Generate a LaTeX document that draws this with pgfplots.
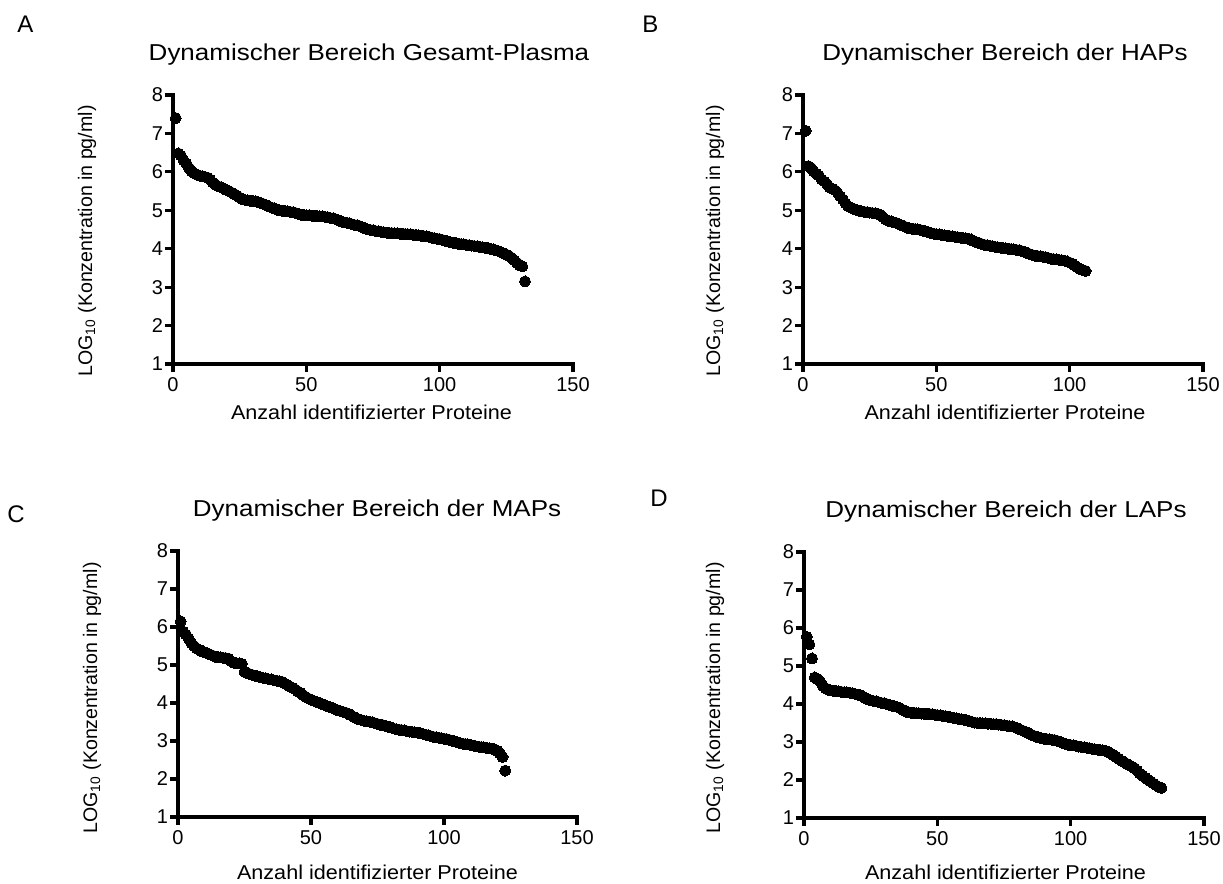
\documentclass[border=0pt]{standalone}
\usepackage{fontspec}
\setmainfont{Liberation Sans}
\newfontfamily\titlefont[FakeStretch=1.13]{Liberation Sans}
\newfontfamily\xlabfont[FakeStretch=1.08]{Liberation Sans}
\usepackage{pgfplots}
\pgfplotsset{compat=1.18}

% ranked protein concentrations (log10 pg/ml)
\pgfplotstableread[row sep=\\]{
x y\\
1 7.40\\ 2 6.48\\ 3 6.42\\ 4 6.30\\ 5 6.22\\ 6 6.10\\ 7 6.02\\ 8 5.96\\ 9 5.93\\ 10 5.90\\
11 5.88\\ 12 5.87\\ 13 5.85\\ 14 5.80\\ 15 5.72\\ 16 5.66\\ 17 5.62\\ 18 5.60\\ 19 5.57\\ 20 5.53\\
21 5.50\\ 22 5.46\\ 23 5.42\\ 24 5.38\\ 25 5.33\\ 26 5.29\\ 27 5.27\\ 28 5.26\\ 29 5.25\\ 30 5.24\\
31 5.23\\ 32 5.21\\ 33 5.19\\ 34 5.16\\ 35 5.13\\ 36 5.10\\ 37 5.07\\ 38 5.05\\ 39 5.02\\ 40 5.00\\
41 4.99\\ 42 4.98\\ 43 4.97\\ 44 4.96\\ 45 4.95\\ 46 4.93\\ 47 4.91\\ 48 4.89\\ 49 4.88\\ 50 4.87\\
51 4.87\\ 52 4.86\\ 53 4.86\\ 54 4.85\\ 55 4.84\\ 56 4.84\\ 57 4.83\\ 58 4.82\\ 59 4.80\\ 60 4.79\\
61 4.77\\ 62 4.74\\ 63 4.71\\ 64 4.69\\ 65 4.68\\ 66 4.66\\ 67 4.64\\ 68 4.62\\ 69 4.61\\ 70 4.59\\
71 4.56\\ 72 4.53\\ 73 4.50\\ 74 4.49\\ 75 4.48\\ 76 4.46\\ 77 4.45\\ 78 4.44\\ 79 4.43\\ 80 4.42\\
81 4.41\\ 82 4.41\\ 83 4.40\\ 84 4.40\\ 85 4.39\\ 86 4.39\\ 87 4.38\\ 88 4.38\\ 89 4.37\\ 90 4.36\\
91 4.36\\ 92 4.35\\ 93 4.34\\ 94 4.33\\ 95 4.32\\ 96 4.31\\ 97 4.29\\ 98 4.27\\ 99 4.26\\ 100 4.25\\
101 4.23\\ 102 4.21\\ 103 4.19\\ 104 4.17\\ 105 4.16\\ 106 4.15\\ 107 4.13\\ 108 4.12\\ 109 4.11\\ 110 4.10\\
111 4.09\\ 112 4.08\\ 113 4.07\\ 114 4.06\\ 115 4.05\\ 116 4.04\\ 117 4.03\\ 118 4.02\\ 119 4.00\\ 120 3.98\\
121 3.96\\ 122 3.94\\ 123 3.91\\ 124 3.88\\ 125 3.85\\ 126 3.81\\ 127 3.76\\ 128 3.70\\ 129 3.63\\ 130 3.57\\
131 3.54\\ 132 3.15\\
}\plasma

\pgfplotstableread[row sep=\\]{
x y\\
1 7.07\\ 2 6.15\\ 3 6.10\\ 4 6.02\\ 5 5.95\\ 6 5.90\\ 7 5.80\\ 8 5.75\\ 9 5.68\\ 10 5.60\\
11 5.56\\ 12 5.52\\ 13 5.45\\ 14 5.36\\ 15 5.28\\ 16 5.18\\ 17 5.10\\ 18 5.07\\ 19 5.04\\ 20 5.01\\
21 4.99\\ 22 4.97\\ 23 4.96\\ 24 4.95\\ 25 4.94\\ 26 4.93\\ 27 4.92\\ 28 4.91\\ 29 4.88\\ 30 4.82\\
31 4.76\\ 32 4.73\\ 33 4.71\\ 34 4.69\\ 35 4.67\\ 36 4.64\\ 37 4.61\\ 38 4.58\\ 39 4.55\\ 40 4.53\\
41 4.52\\ 42 4.51\\ 43 4.50\\ 44 4.49\\ 45 4.47\\ 46 4.45\\ 47 4.43\\ 48 4.41\\ 49 4.39\\ 50 4.38\\
51 4.37\\ 52 4.36\\ 53 4.35\\ 54 4.34\\ 55 4.33\\ 56 4.32\\ 57 4.31\\ 58 4.30\\ 59 4.29\\ 60 4.28\\
61 4.27\\ 62 4.26\\ 63 4.24\\ 64 4.20\\ 65 4.17\\ 66 4.15\\ 67 4.12\\ 68 4.10\\ 69 4.09\\ 70 4.08\\
71 4.06\\ 72 4.05\\ 73 4.04\\ 74 4.03\\ 75 4.02\\ 76 4.01\\ 77 4.00\\ 78 3.99\\ 79 3.98\\ 80 3.97\\
81 3.96\\ 82 3.94\\ 83 3.92\\ 84 3.89\\ 85 3.86\\ 86 3.84\\ 87 3.82\\ 88 3.81\\ 89 3.80\\ 90 3.79\\
91 3.78\\ 92 3.76\\ 93 3.74\\ 94 3.73\\ 95 3.72\\ 96 3.71\\ 97 3.70\\ 98 3.69\\ 99 3.67\\ 100 3.64\\
101 3.61\\ 102 3.56\\ 103 3.51\\ 104 3.47\\ 105 3.44\\ 106 3.42\\
}\haps

\pgfplotstableread[row sep=\\]{
x y\\
1 6.15\\ 2 5.88\\ 3 5.80\\ 4 5.70\\ 5 5.58\\ 6 5.50\\ 7 5.44\\ 8 5.40\\ 9 5.36\\ 10 5.33\\
11 5.31\\ 12 5.28\\ 13 5.25\\ 14 5.22\\ 15 5.21\\ 16 5.20\\ 17 5.19\\ 18 5.18\\ 19 5.17\\ 20 5.10\\
21 5.06\\ 22 5.05\\ 23 5.04\\ 24 5.03\\ 25 4.82\\ 26 4.79\\ 27 4.76\\ 28 4.74\\ 29 4.72\\ 30 4.70\\
31 4.68\\ 32 4.66\\ 33 4.65\\ 34 4.63\\ 35 4.62\\ 36 4.60\\ 37 4.59\\ 38 4.57\\ 39 4.56\\ 40 4.52\\
41 4.48\\ 42 4.44\\ 43 4.40\\ 44 4.36\\ 45 4.31\\ 46 4.27\\ 47 4.21\\ 48 4.16\\ 49 4.12\\ 50 4.09\\
51 4.06\\ 52 4.03\\ 53 4.01\\ 54 3.98\\ 55 3.95\\ 56 3.92\\ 57 3.90\\ 58 3.87\\ 59 3.84\\ 60 3.81\\
61 3.79\\ 62 3.77\\ 63 3.75\\ 64 3.72\\ 65 3.68\\ 66 3.64\\ 67 3.60\\ 68 3.57\\ 69 3.55\\ 70 3.53\\
71 3.52\\ 72 3.51\\ 73 3.49\\ 74 3.47\\ 75 3.45\\ 76 3.43\\ 77 3.42\\ 78 3.40\\ 79 3.38\\ 80 3.36\\
81 3.33\\ 82 3.31\\ 83 3.30\\ 84 3.29\\ 85 3.28\\ 86 3.26\\ 87 3.25\\ 88 3.24\\ 89 3.23\\ 90 3.22\\
91 3.21\\ 92 3.19\\ 93 3.17\\ 94 3.15\\ 95 3.13\\ 96 3.11\\ 97 3.10\\ 98 3.09\\ 99 3.07\\ 100 3.06\\
101 3.05\\ 102 3.03\\ 103 3.01\\ 104 2.99\\ 105 2.97\\ 106 2.95\\ 107 2.93\\ 108 2.92\\ 109 2.91\\ 110 2.90\\
111 2.88\\ 112 2.86\\ 113 2.85\\ 114 2.84\\ 115 2.83\\ 116 2.82\\ 117 2.81\\ 118 2.80\\ 119 2.78\\ 120 2.74\\
121 2.68\\ 122 2.58\\ 123 2.22\\
}\maps

\pgfplotstableread[row sep=\\]{
x y\\
1 5.77\\ 2 5.57\\ 3 5.20\\ 4 4.70\\ 5 4.66\\ 6 4.60\\ 7 4.48\\ 8 4.42\\ 9 4.38\\ 10 4.36\\
11 4.35\\ 12 4.34\\ 13 4.33\\ 14 4.32\\ 15 4.31\\ 16 4.31\\ 17 4.30\\ 18 4.28\\ 19 4.27\\ 20 4.25\\
21 4.24\\ 22 4.20\\ 23 4.16\\ 24 4.12\\ 25 4.10\\ 26 4.08\\ 27 4.07\\ 28 4.05\\ 29 4.03\\ 30 4.02\\
31 4.00\\ 32 3.98\\ 33 3.96\\ 34 3.94\\ 35 3.92\\ 36 3.89\\ 37 3.85\\ 38 3.81\\ 39 3.78\\ 40 3.77\\
41 3.77\\ 42 3.76\\ 43 3.76\\ 44 3.75\\ 45 3.75\\ 46 3.74\\ 47 3.74\\ 48 3.73\\ 49 3.72\\ 50 3.71\\
51 3.70\\ 52 3.69\\ 53 3.68\\ 54 3.67\\ 55 3.65\\ 56 3.64\\ 57 3.62\\ 58 3.61\\ 59 3.60\\ 60 3.59\\
61 3.57\\ 62 3.55\\ 63 3.53\\ 64 3.51\\ 65 3.50\\ 66 3.50\\ 67 3.49\\ 68 3.49\\ 69 3.48\\ 70 3.48\\
71 3.47\\ 72 3.47\\ 73 3.46\\ 74 3.45\\ 75 3.44\\ 76 3.43\\ 77 3.42\\ 78 3.41\\ 79 3.39\\ 80 3.36\\
81 3.33\\ 82 3.30\\ 83 3.27\\ 84 3.24\\ 85 3.20\\ 86 3.17\\ 87 3.14\\ 88 3.12\\ 89 3.10\\ 90 3.09\\
91 3.08\\ 92 3.07\\ 93 3.06\\ 94 3.05\\ 95 3.03\\ 96 3.01\\ 97 2.98\\ 98 2.95\\ 99 2.93\\ 100 2.92\\
101 2.91\\ 102 2.90\\ 103 2.88\\ 104 2.87\\ 105 2.86\\ 106 2.85\\ 107 2.83\\ 108 2.82\\ 109 2.81\\ 110 2.80\\
111 2.79\\ 112 2.78\\ 113 2.77\\ 114 2.74\\ 115 2.70\\ 116 2.66\\ 117 2.61\\ 118 2.56\\ 119 2.51\\ 120 2.47\\
121 2.43\\ 122 2.39\\ 123 2.35\\ 124 2.31\\ 125 2.24\\ 126 2.17\\ 127 2.11\\ 128 2.06\\ 129 2.01\\ 130 1.96\\
131 1.91\\ 132 1.86\\ 133 1.82\\ 134 1.79\\
}\laps

\pgfplotsset{
  panel/.style={
    scale only axis, width=200pt, height=134.5pt, anchor=south west,
    xmin=0, xmax=150, ymin=1, ymax=8,
    axis lines=left,
    axis line style={-, line width=1.6pt, line cap=rect, black},
    xtick={0,50,100,150}, ytick={1,2,...,8},
    tick align=outside, major tick length=4pt,
    major tick style={line width=1.6pt, black},
    tick label style={font=\fontsize{10}{11}\selectfont},
    /pgf/number format/assume math mode=true,
    yticklabel style={inner sep=0.8pt},
    xticklabel style={inner sep=2.5pt},
    clip=false,
  },
  dots/.style={only marks, mark=*, mark size=2.75pt,
    mark options={fill=black, draw=black, line width=0pt}},
}

\newcommand\ttl[1]{{\fontsize{11.5}{13}\titlefont #1}}
\newcommand\xl{{\fontsize{10}{12}\xlabfont Anzahl identifizierter Proteine}}
\newcommand\yl{{\fontsize{9.8}{12}\selectfont LOG\textsubscript{10} (Konzentration in pg/ml)}}

\begin{document}
\begin{tikzpicture}
\useasboundingbox (0,0) rectangle (611.5pt,442pt);

\begin{axis}[panel, at={(86.5pt,260pt)}]
  \addplot[dots] table[x=x, y=y] {\plasma};
\end{axis}
\begin{axis}[panel, at={(401.5pt,260pt)}]
  \addplot[dots] table[x=x, y=y] {\haps};
\end{axis}
\begin{axis}[panel, at={(89pt,33.5pt)}, width=199.5pt, height=133pt]
  \addplot[dots] table[x=x, y=y] {\maps};
\end{axis}
\begin{axis}[panel, at={(402pt,33pt)}, height=133pt]
  \addplot[dots] table[x=x, y=y] {\laps};
\end{axis}

% panel letters
\begin{scope}[every node/.style={inner sep=0pt, anchor=base west, font=\fontsize{12}{14}\selectfont}]
  \node at (8.5pt,425.5pt) {A};
  \node at (321pt,425.5pt) {B};
  \node at (3.5pt,180.5pt) {C};
  \node at (325pt,188.5pt) {D};
\end{scope}

% titles
\begin{scope}[every node/.style={inner sep=0pt, anchor=base}]
  \node at (184.5pt,411.5pt) {\ttl{Dynamischer Bereich Gesamt-Plasma}};
  \node at (502.5pt,411.5pt) {\ttl{Dynamischer Bereich der HAPs}};
  \node at (188.5pt,183.5pt) {\ttl{Dynamischer Bereich der MAPs}};
  \node at (503pt,183pt) {\ttl{Dynamischer Bereich der LAPs}};
  % x labels
  \node at (185.75pt,232pt) {\xl};
  \node at (502.5pt,232pt) {\xl};
  \node at (188.75pt,2pt) {\xl};
  \node at (502.75pt,2pt) {\xl};
  % y labels
  \node[rotate=90] at (46pt,321.5pt) {\yl};
  \node[rotate=90] at (360pt,321.5pt) {\yl};
  \node[rotate=90] at (48.5pt,93pt) {\yl};
  \node[rotate=90] at (360pt,93pt) {\yl};
\end{scope}
\end{tikzpicture}
\end{document}
